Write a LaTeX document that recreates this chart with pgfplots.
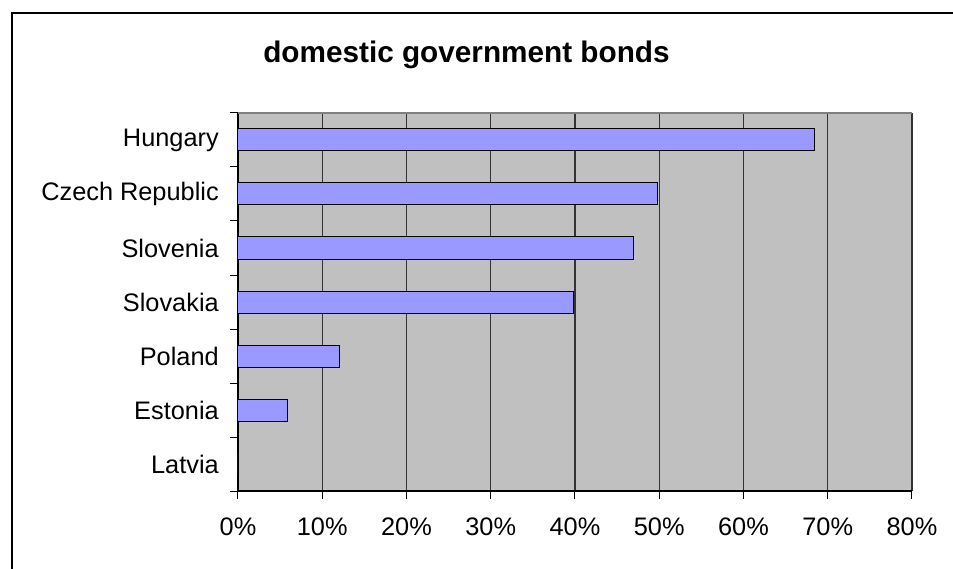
\documentclass[border=0pt]{standalone}
\usepackage{fontspec}
\setmainfont{Liberation Sans}
\usepackage{pgfplots}
\pgfplotsset{compat=1.18}
\definecolor{bgray}{RGB}{192,192,192}
\definecolor{barblue}{RGB}{153,153,255}
\definecolor{gridc}{RGB}{51,51,51}
\begin{document}
\begin{tikzpicture}[x=0.75pt,y=0.75pt]
\useasboundingbox (0,0) rectangle (953,568);
\draw[line width=1.6pt,black] (12,-20) -- (12,555) -- (980,555);
\begin{axis}[
  at={(178.5pt,57.75pt)}, anchor=south west,
  scale only axis, width=505.5pt, height=283.5pt,
  xmin=0, xmax=80, ymin=-0.5, ymax=6.5,
  axis background/.style={fill=bgray},
  axis x line*=bottom, axis y line*=left,
  axis line style={-, black, line width=1pt},
  xtick={0,10,...,80},
  xticklabels={0\%,10\%,20\%,30\%,40\%,50\%,60\%,70\%,80\%},
  xmajorgrids, grid style={gridc, line width=1.1pt},
  ytick={-0.5,0.5,...,6.5},
  yticklabels={,,,,,,,,},
  extra y ticks={0,1,2,3,4,5,6},
  extra y tick labels={Latvia,Estonia,Poland,Slovakia,Slovenia,Czech Republic,Hungary},
  extra y tick style={tick style={draw=none}, grid=none},
  tick align=outside, major tick length=6pt,
  tick style={black, line width=0.75pt},
  tick label style={font=\fontsize{19}{22}\selectfont},
  xticklabel style={anchor=north, inner sep=0pt, yshift=-14.25pt},
  yticklabel style={anchor=east, inner sep=0pt, xshift=-8.25pt},
  clip=false,
]
\addplot[xbar, bar width=16.5pt, fill=barblue, draw=black, line width=0.75pt]
  coordinates {(0,0) (5.9,1) (12.1,2) (39.8,3) (47.0,4) (49.8,5) (68.4,6)};
\draw[gray, line width=1pt] (rel axis cs:0,1) -- (rel axis cs:1,1);
\end{axis}
\node[font=\bfseries\fontsize{22.3}{26}\selectfont, anchor=base, inner sep=0pt] at (466.5,505) {domestic government bonds};
\end{tikzpicture}
\end{document}
